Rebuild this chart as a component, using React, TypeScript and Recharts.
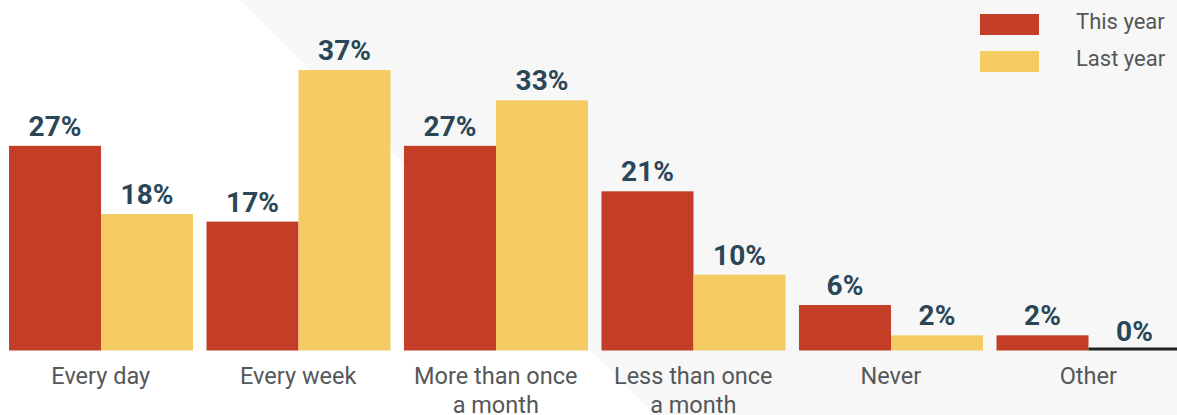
import { BarChart, Bar, XAxis, YAxis, LabelList } from 'recharts'

const categories = ['Every day', 'Every week', 'More than once\na month', 'Less than once\na month', 'Never', 'Other']
const thisYear = [27, 17, 27, 21, 6, 2]
const lastYear = [18, 37, 33, 10, 2, 0]
const seriesNames = ['This year', 'Last year']

const RED = '#c43e27'
const YELLOW = '#f5cc63'
const LABEL = '#2b4657'
const TEXT = '#555759'
const FONT = 'Roboto, sans-serif'

const data = categories.map((name, i) => ({ name, thisYear: thisYear[i], lastYear: lastYear[i] }))

const CategoryTick = ({ x, y, payload }: any) => {
  const lines = String(payload.value).split('\n')
  return (
    <g transform={`translate(${x},${y})`}>
      <text textAnchor="middle" fill={TEXT} fontSize={23.5} fontFamily={FONT}>
        {lines.map((line, i) => (
          <tspan key={i} x={0} dy={i === 0 ? 33 : 29}>
            {line}
          </tspan>
        ))}
      </text>
    </g>
  )
}

// zero values show as a thin dark rule on the baseline
const BarShape = (props: any) => {
  const { x, y, width, height, fill, value } = props
  if (!value) return <rect x={x} y={y - 3} width={width} height={3} fill="#222" />
  return <rect x={x} y={y} width={width} height={height} fill={fill} />
}

// legend drawn as an overlay so it doesn't eat plot space
const ChartLegend = () => (
  <div style={{ position: 'absolute', left: 980, top: 14, fontFamily: FONT, fontSize: 22, color: TEXT }}>
    {seriesNames.map((name, i) => (
      <div key={name} style={{ display: 'flex', alignItems: 'center', height: 21, marginBottom: 16, lineHeight: '21px' }}>
        <div style={{ width: 59, height: 21, background: i === 0 ? RED : YELLOW, marginRight: 37 }} />
        <span style={{ position: 'relative', top: -3 }}>{name}</span>
      </div>
    ))}
  </div>
)

export default function App() {
  return (
    <div style={{ position: 'fixed', left: 0, top: 0, width: 1177, height: 415, overflow: 'hidden', background: '#fff' }}>
      <svg width={1177} height={415} style={{ position: 'absolute', left: 0, top: 0 }}>
        <polygon points="240,0 1177,0 1177,415 655,415" fill="#f7f7f7" />
      </svg>
      <div style={{ position: 'absolute', left: 2, top: 0 }}>
        <BarChart
          width={1185}
          height={415}
          data={data}
          margin={{ top: 70, right: 0, bottom: 0, left: 0 }}
          barSize={92}
          barGap={0}
        >
          <XAxis
            dataKey="name"
            axisLine={false}
            tickLine={false}
            tickSize={0}
            tickMargin={0}
            height={64.5}
            interval={0}
            tick={<CategoryTick />}
          />
          <YAxis hide domain={[0, 37]} />
          <Bar dataKey="thisYear" name={seriesNames[0]} fill={RED} shape={<BarShape />} isAnimationActive={false}>
            <LabelList
              dataKey="thisYear"
              position="top"
              offset={10}
              formatter={(v: any) => `${v}%`}
              style={{ fill: LABEL, fontSize: 28, fontWeight: 700, fontFamily: FONT }}
            />
          </Bar>
          <Bar dataKey="lastYear" name={seriesNames[1]} fill={YELLOW} shape={<BarShape />} isAnimationActive={false}>
            <LabelList
              dataKey="lastYear"
              position="top"
              offset={10}
              formatter={(v: any) => `${v}%`}
              style={{ fill: LABEL, fontSize: 28, fontWeight: 700, fontFamily: FONT }}
            />
          </Bar>
        </BarChart>
      </div>
      <ChartLegend />
    </div>
  )
}
